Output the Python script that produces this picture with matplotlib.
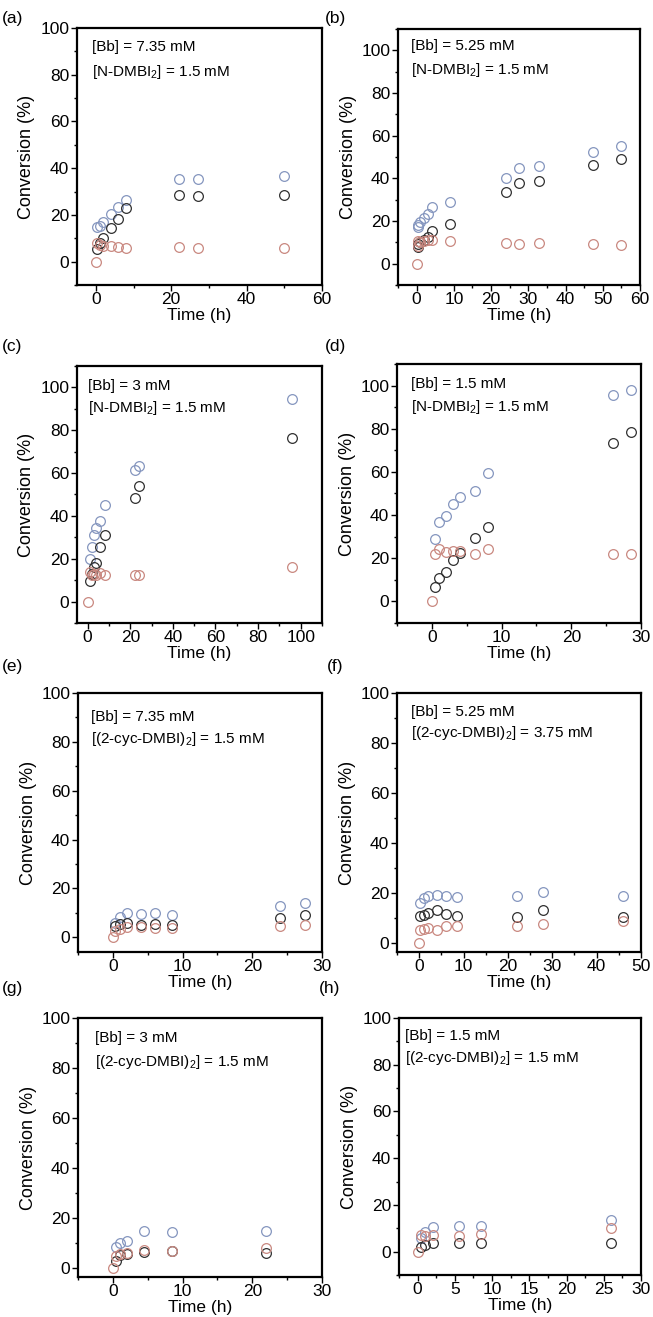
import matplotlib
matplotlib.use("Agg")
import matplotlib.pyplot as plt
from matplotlib.ticker import MultipleLocator

plt.rcParams['font.family'] = ['Liberation Sans', 'DejaVu Sans']
plt.rcParams['mathtext.default'] = 'regular'

# ---------------- data ----------------
t_a = [0.25, 1, 2, 4, 6, 8, 22, 27, 50]
blue_a = [14.8, 15.3, 16.9, 20.5, 23.4, 26.5, 35.5, 35.5, 36.5]
black_a = [5.5, 8, 10, 14.3, 18.3, 23, 28.7, 28.1, 28.4]
red_t_a = [0, 0.25, 1, 2, 4, 6, 8, 22, 27, 50]
red_a = [0, 8, 7.2, 6.9, 6.6, 6.2, 5.7, 6.4, 6.0, 6.0]

t_b = [0.25, 0.5, 1, 2, 3, 4, 9, 24, 27.5, 33, 47.5, 55]
blue_b = [17, 18, 19.5, 21.5, 23.5, 26.5, 28.7, 40.2, 45, 46, 52.4, 55]
black_b = [8, 9, 10, 11, 12.5, 15.5, 18.4, 33.4, 37.7, 38.6, 46.4, 49.2]
red_t_b = [0, 0.25, 0.5, 1, 2, 3, 4, 9, 24, 27.5, 33, 47.5, 55]
red_b = [0, 8.5, 10.5, 10, 10.5, 11, 11, 10.5, 9.5, 9.1, 9.5, 9.1, 8.8]

t_c = [1, 2, 3, 4, 6, 8, 22, 24, 96]
blue_c = [20, 25.5, 31, 34.5, 37.5, 45, 61.3, 63.3, 94.5]
black_c = [9.5, 13, 16, 18, 25.5, 31, 48.4, 53.9, 76.6]
red_t_c = [0, 1, 2, 3, 4, 6, 8, 22, 24, 96]
red_c = [0, 14, 12.5, 13, 12.5, 13.5, 12.5, 12.3, 12.3, 16.3]

t_d = [0.5, 1, 2, 3, 4, 6.2, 8, 26, 28.5]
blue_d = [28.9, 36.6, 39.4, 45.2, 48.3, 51.1, 59.4, 95.6, 98]
black_d = [6.9, 10.9, 13.6, 19.4, 22.5, 29.2, 34.7, 73.4, 78.4]
red_t_d = [0, 0.5, 1, 2, 3, 4, 6.2, 8, 26, 28.5]
red_d = [0, 22.2, 24.5, 22.8, 23.5, 23.5, 22.2, 24.1, 22.2, 21.9]

t_e = [0.33, 1, 2, 4, 6, 8.5, 24, 27.5]
blue_e = [5.7, 8.5, 9.8, 9.4, 9.8, 9.2, 12.8, 14.2]
black_e = [4.5, 5.5, 5.7, 5.1, 5.5, 5.1, 8.1, 9.2]
red_t_e = [0, 0.33, 1, 2, 4, 6, 8.5, 24, 27.5]
red_e = [0, 2.6, 3.3, 4.4, 4.1, 3.7, 4.0, 4.6, 5.1]

t_f = [0.25, 1, 2, 4, 6, 8.5, 22, 28, 46]
blue_f = [16.1, 18.1, 19, 19.4, 18.7, 18.5, 19, 20.3, 19]
black_f = [10.7, 11.1, 12, 13.4, 11.8, 11, 10.3, 13.1, 10.4]
red_t_f = [0, 0.25, 1, 2, 4, 6, 8.5, 22, 28, 46]
red_f = [0, 5.4, 5.6, 6, 5.1, 6.7, 6.7, 7, 7.6, 9]

t_g = [0.4, 1, 2, 4.5, 8.5, 22]
blue_g = [8.7, 10.2, 11.1, 15, 14.4, 14.9]
black_g = [2.9, 5.3, 5.6, 6.7, 6.9, 6.3]
red_t_g = [0, 0.4, 1, 2, 4.5, 8.5, 22]
red_g = [0, 5.1, 5.8, 6, 7.5, 7.1, 8]

t_h = [0.4, 1, 2, 5.5, 8.5, 26]
blue_h = [6, 8.6, 10.5, 10.9, 10.9, 13.6]
black_h = [2, 2.9, 3.6, 3.6, 3.6, 3.6]
red_t_h = [0, 0.4, 1, 2, 5.5, 8.5, 26]
red_h = [0, 7.2, 6.6, 7.2, 6.9, 7.6, 10.2]

labels = ['(a)', '(b)', '(c)', '(d)', '(e)', '(f)', '(g)', '(h)']
line1 = ['[Bb] = 7.35 mM', '[Bb] = 5.25 mM', '[Bb] = 3 mM', '[Bb] = 1.5 mM',
         '[Bb] = 7.35 mM', '[Bb] = 5.25 mM', '[Bb] = 3 mM', '[Bb] = 1.5 mM']
line2 = ['[N-DMBI$_2$] = 1.5 mM', '[N-DMBI$_2$] = 1.5 mM',
         '[N-DMBI$_2$] = 1.5 mM', '[N-DMBI$_2$] = 1.5 mM',
         '[(2-cyc-DMBI)$_2$] = 1.5 mM', '[(2-cyc-DMBI)$_2$] = 3.75 mM',
         '[(2-cyc-DMBI)$_2$] = 1.5 mM', '[(2-cyc-DMBI)$_2$] = 1.5 mM']

panels = [
    (t_a, blue_a, black_a, red_t_a, red_a),
    (t_b, blue_b, black_b, red_t_b, red_b),
    (t_c, blue_c, black_c, red_t_c, red_c),
    (t_d, blue_d, black_d, red_t_d, red_d),
    (t_e, blue_e, black_e, red_t_e, red_e),
    (t_f, blue_f, black_f, red_t_f, red_f),
    (t_g, blue_g, black_g, red_t_g, red_g),
    (t_h, blue_h, black_h, red_t_h, red_h),
]

# ---------------- layout (pixels) ----------------
W, H = 653, 1317
boxes = [(77, 322, 28, 285), (398, 640, 29, 285),
         (77, 322, 366, 623), (397, 641, 364, 623),
         (78, 322, 693, 952), (397, 641, 693, 952),
         (78, 322, 1018, 1277), (399, 641, 1018, 1275)]
xlims = [(-5, 60), (-5, 60), (-5, 110), (-5, 30), (-5, 30), (-5, 50), (-5, 30), (-2.5, 30)]
ylims = [(-10, 100), (-10, 110), (-10, 110), (-10, 110), (-6, 100), (-3.6, 100), (-3.4, 100), (-10, 100)]
xmaj = [20, 10, 20, 10, 10, 10, 10, 5]
label_pos = [(2, 18), (325, 18), (2, 346), (325, 346), (2, 666), (327, 666), (2, 988), (319, 988)]
text_pos = [(92, 47, 72), (411, 46, 70), (88, 386, 408), (411, 384, 407),
            (91, 717, 739), (411, 712, 733), (95, 1038, 1062), (405, 1036, 1058)]

c_blue = '#8596bf'
c_black = '#303030'
c_red = '#c98880'

fig = plt.figure(figsize=(W / 100, H / 100), dpi=100)

for i, (tb, yb, yk, tr, yr) in enumerate(panels):
    l, r, t, b = boxes[i]
    ax = fig.add_axes([l / W, 1 - b / H, (r - l) / W, (b - t) / H])
    kw = dict(ls='none', marker='o', ms=7.0, mfc='none', mew=0.9)
    ax.plot(tb, yb, color=c_blue, **kw)
    ax.plot(tb, yk, color=c_black, **kw)
    ax.plot(tr, yr, color=c_red, **kw)
    ax.set_xlim(*xlims[i])
    ax.set_ylim(*ylims[i])
    ax.xaxis.set_major_locator(MultipleLocator(xmaj[i]))
    ax.xaxis.set_minor_locator(MultipleLocator(xmaj[i] / 2))
    ax.yaxis.set_major_locator(MultipleLocator(20))
    ax.yaxis.set_minor_locator(MultipleLocator(10))
    ax.tick_params(which='both', direction='out', top=False, right=False,
                   labelsize=12.5, width=1.0)
    ax.tick_params(which='major', length=4)
    ax.tick_params(which='minor', length=2.2)
    ax.tick_params(axis='y', pad=1.5)
    ax.tick_params(axis='x', pad=1)
    for s in ax.spines.values():
        s.set_linewidth(1.6)
    ax.set_xlabel('Time (h)', fontsize=12.5)
    ax.set_ylabel('Conversion (%)', fontsize=13)
    ax.xaxis.set_label_coords(0.5, -0.09)
    ax.yaxis.set_label_coords(-0.17, 0.5)
    lx, ly = label_pos[i]
    fig.text(lx / W, 1 - ly / H, labels[i], fontsize=12.5, ha='left', va='center')
    tx, ty1, ty2 = text_pos[i]
    fig.text(tx / W, 1 - ty1 / H, line1[i], fontsize=11, ha='left', va='center')
    fig.text(tx / W, 1 - ty2 / H, line2[i], fontsize=11, ha='left', va='center')

fig.savefig('out.png', dpi=100)
